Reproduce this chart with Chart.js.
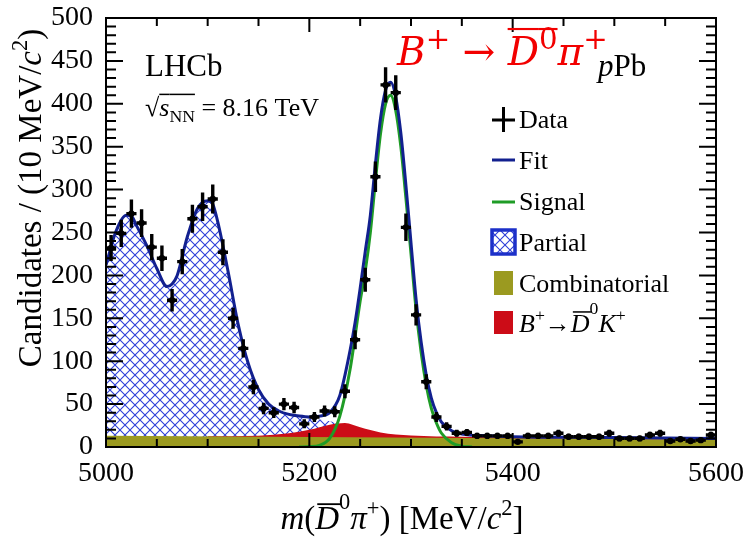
<!DOCTYPE html>
<html>
<head>
<meta charset="utf-8">
<script src="https://cdn.jsdelivr.net/npm/chart.js@4.4.0/dist/chart.umd.min.js"></script>
<style>
html, body { margin: 0; padding: 0; background: #fff; }
#wrap { width: 745px; height: 540px; }
</style>
</head>
<body>
<div id="wrap"><canvas id="grafico"></canvas></div>
<script>
// ---- data points (10 MeV bins) ----
const binCentres = [5005,5015,5025,5035,5045,5055,5065,5075,5085,5095,5105,5115,5125,5135,5145,5155,5165,5175,5185,5195,
                    5205,5215,5225,5235,5245,5255,5265,5275,5285,5295,5305,5315,5325,5335,5345,5355,5365,5375,5385,5395,
                    5405,5415,5425,5435,5445,5455,5465,5475,5485,5495,5505,5515,5525,5535,5545,5555,5565,5575,5585,5595];
const counts = [232,249,272,261,233,220,171,216,266,280,289,227,150,115,70,45,40,50,46,27,
                35,42,41,65,125,195,315,422,413,256,154,76,35,24,16,17,13,13,13,13,
                6,13,13,13,16,12,12,12,12,16,10,10,10,14,16,7,9,7,8,14];
const errors = [15.2,15.8,16.5,16.2,15.3,14.8,13.1,14.7,16.3,16.7,17.0,15.1,12.2,10.7,8.4,6.7,6.3,7.1,6.8,5.2,
                5.9,6.5,6.4,8.1,11.2,14.0,17.7,20.5,20.3,16.0,12.4,8.7,5.9,4.9,4.0,4.1,3.6,3.6,3.6,3.6,
                2.4,3.6,3.6,3.6,4.0,3.5,3.5,3.5,3.5,4.0,3.2,3.2,3.2,3.7,4.0,2.6,3.0,2.6,2.8,3.7];
const binHalf = 5;

// ---- fit components ----
const fitX = [5000,5010,5020,5025,5030,5040,5050,5060,5065,5070,5080,5090,5100,5105,5110,5120,5130,5140,5150,5160,
              5170,5180,5190,5200,5210,5220,5230,5240,5245,5250,5255,5260,5265,5270,5275,5280,5285,5290,5295,5300,
              5305,5310,5315,5320,5325,5330,5340,5350,5375,5400,5500,5600];
const fitY = [212,252,270,269,258,235,208,187,190,200,245,278,287,283,262,205,143,97,67,50,
              42,38,36,35,36,40,60,112,145,185,228,270,330,383,416,425,408,366,305,238,
              172,122,84,57,40,29,19,15,13,12,11,10];

const signalX = [5190,5200,5210,5220,5230,5240,5250,5255,5260,5265,5270,5275,5280,5285,5290,5295,5300,5305,5310,5315,
                 5320,5325,5330,5340,5350,5360];
const signalY = [0,0.5,2,10,36,90,170,205,250,310,365,400,410,392,350,290,225,160,110,72,
                 45,28,16,5,1,0];

const partialX = [5000,5010,5020,5025,5030,5040,5050,5060,5065,5070,5080,5090,5100,5105,5110,5120,5130,5140,5150,5160,
                  5170,5180,5190,5200,5210,5220,5230,5240,5250,5260];
const partialY = [211,251,269,268,257,234,207,186,189,199,244,277,286,282,261,204,142,96,66,49,
                  41,37,35,33,32,30,27,21,14,12];

const dkX = [5100,5150,5180,5200,5220,5235,5250,5270,5300,5350,5400,5450,5600];
const dkY = [12.6,13.2,16,20,26,28,23,17,13.5,12,11,10,8.5];

const combX = [5000,5200,5400,5600];
const combY = [13,11.8,10.2,8.5];

const xTicks = [5000,5200,5400,5600];
const yTicks = [0,50,100,150,200,250,300,350,400,450,500];

const SERIF = "'Liberation Serif', serif";
const cores = { fit: '#12208f', signal: '#1f9c26', comb: '#9b9a20', dk: '#cc0c17', hatch: '#2f40d8', partialBox: '#1c30c9' };

function pares(xs, ys) { return xs.map((x, i) => ({ x: x, y: ys[i] })); }

function hachura() {
    const c = document.createElement('canvas');
    c.width = 10; c.height = 10;
    const g = c.getContext('2d');
    g.strokeStyle = cores.hatch;
    g.lineWidth = 1.1;
    g.beginPath();
    g.moveTo(-1, -1); g.lineTo(11, 11);
    g.moveTo(11, -1); g.lineTo(-1, 11);
    g.stroke();
    return g.createPattern(c, 'repeat');
}
const padraoHachura = hachura();

// rich text with italics, super/subscripts and overlines
function textoRico(ctx, partes, x, y, size, align, color) {
    const itens = partes.map(p => {
        const s = (p.sup || p.sub) ? size * (p.esc || 0.68) : size;
        const font = (p.it ? 'italic ' : '') + s + 'px ' + (p.family || SERIF);
        ctx.font = font;
        return { p: p, font: font, w: ctx.measureText(p.t).width };
    });
    const total = itens.reduce((a, b) => a + b.w + (b.p.gap || 0), 0);
    let cx = align === 'center' ? x - total / 2 : x;
    ctx.textAlign = 'left';
    ctx.textBaseline = 'alphabetic';
    itens.forEach(it => {
        let dy = 0;
        if (it.p.sup) dy = -size * (it.p.high || 0.42);
        if (it.p.sub) dy = size * 0.22;
        ctx.font = it.font;
        ctx.fillStyle = it.p.color || color;
        ctx.fillText(it.p.t, cx, y + dy);
        if (it.p.over) {
            ctx.fillRect(cx + (it.p.odx || 0), y - size * (it.p.oy || 0.8), it.w, Math.max(1.5, size * 0.055));
        }
        cx += it.w + (it.p.gap || 0);
    });
    return total;
}

const pontosPlugin = {
    id: 'pontos',
    afterDatasetsDraw(chart) {
        const ctx = chart.ctx, xs = chart.scales.x, ys = chart.scales.y;
        ctx.save();
        ctx.strokeStyle = '#000';
        ctx.fillStyle = '#000';
        ctx.lineWidth = 3.4;
        binCentres.forEach((c, i) => {
            const px = xs.getPixelForValue(c), py = ys.getPixelForValue(counts[i]);
            ctx.beginPath();
            ctx.moveTo(xs.getPixelForValue(c - binHalf), py);
            ctx.lineTo(xs.getPixelForValue(c + binHalf), py);
            ctx.moveTo(px, ys.getPixelForValue(counts[i] - errors[i]));
            ctx.lineTo(px, ys.getPixelForValue(counts[i] + errors[i]));
            ctx.stroke();
            ctx.beginPath();
            ctx.arc(px, py, 3.2, 0, Math.PI * 2);
            ctx.fill();
        });
        ctx.restore();
    }
};

const molduraPlugin = {
    id: 'moldura',
    afterDraw(chart) {
        const ctx = chart.ctx, a = chart.chartArea, xs = chart.scales.x, ys = chart.scales.y;
        ctx.save();
        ctx.strokeStyle = '#000';
        ctx.lineWidth = 2;
        ctx.strokeRect(a.left, a.top, a.right - a.left, a.bottom - a.top);
        ctx.beginPath();
        for (let v = 5000; v <= 5600; v += 50) {
            const px = xs.getPixelForValue(v);
            const L = (v % 200 === 0) ? 14 : 8;
            ctx.moveTo(px, a.bottom); ctx.lineTo(px, a.bottom - L);
            ctx.moveTo(px, a.top); ctx.lineTo(px, a.top + L);
        }
        for (let v = 0; v <= 500; v += 10) {
            const py = ys.getPixelForValue(v);
            const L = (v % 50 === 0) ? 17 : 10;
            ctx.moveTo(a.left, py); ctx.lineTo(a.left + L, py);
            ctx.moveTo(a.right, py); ctx.lineTo(a.right - L, py);
        }
        ctx.stroke();

        // axis titles
        textoRico(ctx, [{ t: 'm', it: true }, { t: '(' }, { t: 'D', it: true, over: true, odx: 2, oy: 0.78 },
                        { t: '0', sup: true, high: 0.62 }, { t: 'π', it: true }, { t: '+', sup: true },
                        { t: ') [MeV/' }, { t: 'c', it: true }, { t: '2', sup: true }, { t: ']' }],
                  402, 529, 33, 'center', '#000');
        ctx.save();
        ctx.translate(41, 198);
        ctx.rotate(-Math.PI / 2);
        textoRico(ctx, [{ t: 'Candidates / (10 MeV/' }, { t: 'c', it: true }, { t: '2', sup: true }, { t: ')' }],
                  0, 0, 33, 'center', '#000');
        ctx.restore();

        // labels inside the frame
        textoRico(ctx, [{ t: 'LHCb' }], 145, 76, 31, 'left', '#000');
        textoRico(ctx, [{ t: '√' }, { t: 's', it: true, over: true, oy: 0.86 }, { t: 'NN', sub: true, over: true, oy: 0.86 },
                        { t: ' = 8.16 TeV' }], 145, 116, 26, 'left', '#000');
        const fam = "'DejaVu Serif', serif";
        textoRico(ctx, [{ t: 'B', it: true, family: fam }, { t: '+', sup: true, esc: 0.75, family: fam }, { t: ' → ', family: fam },
                        { t: 'D', it: true, family: fam, over: true, oy: 0.95 },
                        { t: '0', sup: true, esc: 0.75, family: fam, over: true, oy: 0.95 },
                        { t: 'π', it: true, family: fam }, { t: '+', sup: true, esc: 0.75, family: fam }],
                  397, 65, 39, 'left', '#f20000');
        textoRico(ctx, [{ t: 'p', it: true }, { t: 'Pb' }], 598, 76, 31, 'left', '#000');

        // legend
        const lx = 492, tx = 519;
        ctx.lineWidth = 3;
        ctx.strokeStyle = '#000';
        ctx.beginPath();
        ctx.moveTo(lx, 120); ctx.lineTo(lx + 23, 120);
        ctx.moveTo(lx + 11.5, 107); ctx.lineTo(lx + 11.5, 132);
        ctx.stroke();
        ctx.strokeStyle = cores.fit;
        ctx.beginPath(); ctx.moveTo(lx, 160); ctx.lineTo(lx + 23, 160); ctx.stroke();
        ctx.strokeStyle = cores.signal;
        ctx.beginPath(); ctx.moveTo(lx, 202); ctx.lineTo(lx + 23, 202); ctx.stroke();
        ctx.fillStyle = padraoHachura;
        ctx.fillRect(lx, 230, 23, 24);
        ctx.strokeStyle = cores.partialBox;
        ctx.lineWidth = 3.5;
        ctx.strokeRect(lx, 230, 23, 24);
        ctx.fillStyle = cores.comb;
        ctx.fillRect(lx + 2, 271, 19, 24);
        ctx.fillStyle = cores.dk;
        ctx.fillRect(lx + 2, 311, 19, 23);
        const ls = 26;
        textoRico(ctx, [{ t: 'Data' }], tx, 128, ls, 'left', '#000');
        textoRico(ctx, [{ t: 'Fit' }], tx, 169, ls, 'left', '#000');
        textoRico(ctx, [{ t: 'Signal' }], tx, 210, ls, 'left', '#000');
        textoRico(ctx, [{ t: 'Partial' }], tx, 251, ls, 'left', '#000');
        textoRico(ctx, [{ t: 'Combinatorial' }], tx, 292, ls, 'left', '#000');
        textoRico(ctx, [{ t: 'B', it: true }, { t: '+', sup: true }, { t: '→' }, { t: 'D', it: true, over: true, odx: 2, oy: 0.8 },
                        { t: '0', sup: true, high: 0.7 }, { t: 'K', it: true }, { t: '+', sup: true }],
                  tx, 332, 26, 'left', '#000');
        ctx.restore();
    }
};

const graf = new Chart(document.getElementById('grafico'), {
    type: 'line',
    data: {
        datasets: [
            { label: 'Fit', data: pares(fitX, fitY), borderColor: cores.fit, borderWidth: 3,
              cubicInterpolationMode: 'monotone', fill: false, order: 1 },
            { label: 'Signal', data: pares(signalX, signalY), borderColor: cores.signal, borderWidth: 3,
              cubicInterpolationMode: 'monotone', fill: false, order: 2 },
            { label: 'Combinatorial', data: pares(combX, combY), borderWidth: 0, borderColor: 'transparent',
              backgroundColor: cores.comb, fill: 'origin', order: 3 },
            { label: 'B+ -> D0 K+', data: pares(dkX, dkY), borderWidth: 0, borderColor: 'transparent',
              cubicInterpolationMode: 'monotone', backgroundColor: cores.dk, fill: 'origin', order: 4 },
            { label: 'Partial', data: pares(partialX, partialY), borderWidth: 0, borderColor: 'transparent',
              cubicInterpolationMode: 'monotone', backgroundColor: padraoHachura, fill: 'origin', order: 5 }
        ]
    },
    options: {
        responsive: true,
        maintainAspectRatio: false,
        animation: false,
        layout: { padding: { left: 0, right: 29, top: 18, bottom: 0 } },
        elements: { point: { radius: 0 } },
        plugins: { legend: { display: false }, tooltip: { enabled: false } },
        scales: {
            x: {
                type: 'linear', min: 5000, max: 5600,
                grid: { display: false, drawTicks: false }, border: { display: false },
                afterBuildTicks: s => { s.ticks = xTicks.map(v => ({ value: v })); },
                ticks: { font: { family: SERIF, size: 28 }, color: '#000', padding: 10, maxRotation: 0, autoSkip: false,
                         callback: v => String(v) },
                afterFit: s => { s.height = 93; s.paddingLeft = 0; s.paddingRight = 0; }
            },
            y: {
                min: 0, max: 500,
                grid: { display: false, drawTicks: false }, border: { display: false },
                afterBuildTicks: s => { s.ticks = yTicks.map(v => ({ value: v })); },
                ticks: { font: { family: SERIF, size: 28 }, color: '#000', padding: 13, autoSkip: false,
                         callback: v => String(v) },
                afterFit: s => { s.width = 106; s.paddingTop = 0; s.paddingBottom = 0; }
            }
        }
    },
    plugins: [pontosPlugin, molduraPlugin]
});
</script>
</body>
</html>
